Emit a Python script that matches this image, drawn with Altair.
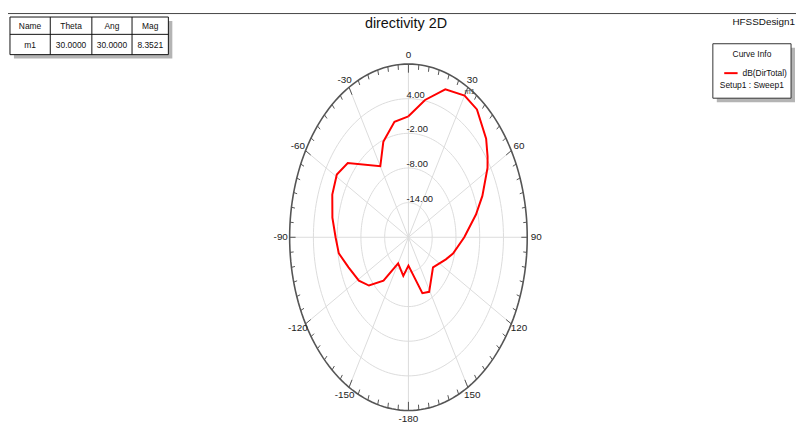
import altair as alt
import numpy as np
import pandas as pd

# ---- data ----
theta_deg = [0, 10, 20, 30, 38, 49, 55, 59, 69, 77, 90, 104, 112, 130, 151, 160, 180,
             191, 210, 220, 230, 239, 251, 261, 270, 280, 291, 301, 310, 330, 339, 341, 350, 360]
mag_db = [0.95, 4.15, 7.25, 8.35, 8.1, 6.0, 4.4, 3.3, 0.0, -2.5, -5.9, -8.4, -9.8, -11.9, -9.2, -9.7, -15.1,
          -13.2, -14.8, -10.2, -7.0, -5.4, -4.0, -2.2, -1.6, -0.5, 0.6, 1.1, 0.0, -5.8, -2.3, -1.9, 0.3, 0.95]

ring_values = [4.0, -2.0, -8.0, -14.0]
ring_labels = ["4.00", "-2.00", "-8.00", "-14.00"]
r_min, r_max = -20.0, 10.0

spoke_angles = [0, 30, 60, 90, 120, 150, 180, 210, 240, 270, 300, 330]
angle_labels = ["0", "30", "60", "90", "120", "150", "-180", "-150", "-120", "-90", "-60", "-30"]

marker_theta = 30.0
marker_mag = 8.3521
table_header = ["Name", "Theta", "Ang", "Mag"]
table_row = ["m1", "30.0000", "30.0000", "8.3521"]

FONT = "Liberation Sans, Arial"

W, H = 796, 416
CX, CY = 404.5, 229.5  # chart coords of polar centre
RX, RY = 120.0, 175.0
xdom = [-CX / RX, (W - CX) / RX]
ydom = [-(H - CY) / RY, CY / RY]
xs = alt.Scale(domain=xdom, nice=False, zero=False)
ys = alt.Scale(domain=ydom, nice=False, zero=False)

# ---- tables built from arrays ----
curve = pd.DataFrame({"theta": theta_deg, "mag": mag_db, "i": range(len(theta_deg))})

samples = np.arange(0, 361, 2)
rings_df = pd.DataFrame([{"ring": v, "theta": float(t), "i": k}
                         for v in ring_values + [r_max] for k, t in enumerate(samples)])
ring_lab_df = pd.DataFrame({"ring": ring_values, "label": ring_labels})
spokes_df = pd.DataFrame({"theta": spoke_angles})
alab_df = pd.DataFrame({"theta": spoke_angles, "label": angle_labels})
ticks_df = pd.DataFrame({"theta": np.arange(0, 360, 5)})
marker_df = pd.DataFrame({"theta": [marker_theta], "mag": [marker_mag], "label": ["m1"]})

RAD = "PI/180"
norm = f"(datum.mag - ({r_min}))/({r_max - r_min})"

curve_layer = alt.Chart(curve).transform_calculate(
    r=norm
).transform_calculate(
    x=f"datum.r*sin(datum.theta*{RAD})", y=f"datum.r*cos(datum.theta*{RAD})"
).mark_line(color="#ff0000", strokeWidth=2).encode(
    x=alt.X("x:Q", scale=xs, axis=None), y=alt.Y("y:Q", scale=ys, axis=None), order="i:Q"
)

rings_layer = alt.Chart(rings_df).transform_calculate(
    r=f"(datum.ring - ({r_min}))/({r_max - r_min})"
).transform_calculate(
    x=f"datum.r*sin(datum.theta*{RAD})", y=f"datum.r*cos(datum.theta*{RAD})",
    outer=f"datum.ring == {r_max}"
).mark_line().encode(
    x=alt.X("x:Q", scale=xs, axis=None), y=alt.Y("y:Q", scale=ys, axis=None),
    detail="ring:N", order="i:Q",
    color=alt.Color("outer:N", scale=alt.Scale(domain=[False, True], range=["#dcdcdc", "#555555"]), legend=None),
    strokeWidth=alt.StrokeWidth("outer:N", scale=alt.Scale(domain=[False, True], range=[1, 1.6]), legend=None),
)

spokes_layer = alt.Chart(spokes_df).transform_calculate(
    x="0", y="0", x2=f"sin(datum.theta*{RAD})", y2=f"cos(datum.theta*{RAD})"
).mark_rule(color="#dcdcdc", strokeWidth=1).encode(
    x=alt.X("x:Q", scale=xs, axis=None), y=alt.Y("y:Q", scale=ys, axis=None),
    x2="x2:Q", y2="y2:Q"
)

ticks_layer = alt.Chart(ticks_df).transform_calculate(
    len="datum.theta % 30 == 0 ? 0.05 : 0.03"
).transform_calculate(
    x=f"sin(datum.theta*{RAD})", y=f"cos(datum.theta*{RAD})",
    x2=f"(1-datum.len)*sin(datum.theta*{RAD})", y2=f"(1-datum.len)*cos(datum.theta*{RAD})"
).mark_rule(color="#555555", strokeWidth=1).encode(
    x=alt.X("x:Q", scale=xs, axis=None), y=alt.Y("y:Q", scale=ys, axis=None),
    x2="x2:Q", y2="y2:Q"
)

alab_layer = alt.Chart(alab_df).transform_calculate(
    x=f"{1 + 9 / RX}*sin(datum.theta*{RAD})", y=f"{1 + 9 / RY}*cos(datum.theta*{RAD})"
).mark_text(font=FONT, fontSize=10, color="#222222", align="center", baseline="middle").encode(
    x=alt.X("x:Q", scale=xs, axis=None), y=alt.Y("y:Q", scale=ys, axis=None), text="label:N"
)

rlab_layer = alt.Chart(ring_lab_df).transform_calculate(
    x="0", y=f"(datum.ring - ({r_min}))/({r_max - r_min})"
).mark_text(font=FONT, fontSize=9.5, color="#222222", align="left", baseline="middle", dx=-2, dy=-4).encode(
    x=alt.X("x:Q", scale=xs, axis=None), y=alt.Y("y:Q", scale=ys, axis=None), text="label:N"
)

marker_layer = alt.Chart(marker_df).transform_calculate(
    r=norm
).transform_calculate(
    x=f"datum.r*sin(datum.theta*{RAD})", y=f"datum.r*cos(datum.theta*{RAD})"
).mark_text(font=FONT, fontSize=7.5, color="#444444", align="left", baseline="middle", dx=0, dy=-4).encode(
    x=alt.X("x:Q", scale=xs, axis=None), y=alt.Y("y:Q", scale=ys, axis=None), text="label:N"
)

dummy = pd.DataFrame({"k": [0]})


def rect(x1, x2, y1, y2, fill, stroke=None):
    kw = dict(fill=fill)
    if stroke:
        kw.update(stroke=stroke, strokeWidth=1)
    return alt.Chart(dummy).mark_rect(**kw).encode(
        x=alt.value(x1), x2=alt.value(x2), y=alt.value(y1), y2=alt.value(y2))


def rule(x1, x2, y1, y2, color, w=1):
    return alt.Chart(dummy).mark_rule(color=color, strokeWidth=w).encode(
        x=alt.value(x1), x2=alt.value(x2), y=alt.value(y1), y2=alt.value(y2))


def text(s, x, y, size, align="center", color="#111111"):
    return alt.Chart(dummy).mark_text(font=FONT, fontSize=size, color=color, align=align,
                                      baseline="middle", text=s).encode(
        x=alt.value(x), y=alt.value(y))


deco = []
# top line
deco.append(rule(-2, W, 3.5, 3.5, "#444444", 1))
# table
deco.append(rect(6, 166, 11, 49, "#b4b4b4"))
deco.append(rect(2, 162, 7, 45, "#ffffff", "#111111"))
deco.append(rule(2, 162, 24.5, 24.5, "#111111"))
for cx_ in [42.7, 84.7, 125.3]:
    deco.append(rule(cx_, cx_, 7, 45, "#111111"))
col_centers = [22.3, 63.7, 105.0, 143.7]
for c, h_, v_ in zip(col_centers, table_header, table_row):
    deco.append(text(h_, c, 16.5, 8.5))
    deco.append(text(v_, c, 35.5, 8.5))
# header texts
deco.append(text("directivity 2D", 402, 14, 14.5))
deco.append(text("HFSSDesign1", 795, 12, 10, align="right"))
# legend box
deco.append(rect(716, 795, 38, 93, "#b4b4b4"))
deco.append(rect(712, 791, 34, 89, "#ffffff", "#333333"))
deco.append(text("Curve Info", 751.5, 44.5, 8.5))
deco.append(rule(723.5, 737, 63.7, 63.7, "#ff0000", 2))
deco.append(text("dB(DirTotal)", 742, 64, 8.5, align="left"))
deco.append(text("Setup1 : Sweep1", 719, 75.5, 8.5, align="left"))

chart = alt.layer(
    spokes_layer, rings_layer, ticks_layer, rlab_layer, alab_layer, curve_layer, marker_layer, *deco
).properties(
    width=W, height=H, padding=0, autosize="none"
).configure_view(stroke=None)

chart.save("out.html", embed_options={"renderer": "svg", "actions": False})
